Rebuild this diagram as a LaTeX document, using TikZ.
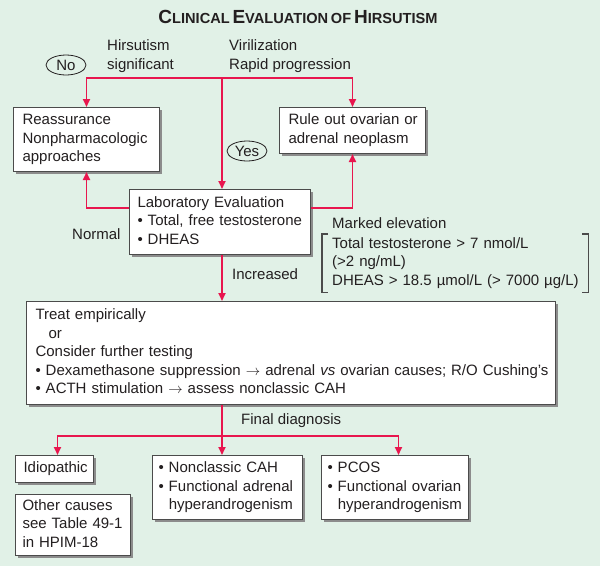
\documentclass[tikz,border=0pt]{standalone}
\usepackage{fontspec}
\setmainfont{Liberation Sans}
\usetikzlibrary{positioning,shapes.geometric,shadows,arrows.meta}

\definecolor{bggreen}{RGB}{225,241,231}
\definecolor{flowred}{RGB}{232,22,78}
\definecolor{boxgray}{RGB}{75,75,75}
\definecolor{inkgray}{RGB}{35,31,32}

% fake small caps for the heading
\newcommand\smcap[2]{{\fontsize{19}{19}\selectfont #1}{\fontsize{14.6}{14.6}\selectfont #2}}
\newcommand\bul{\textbullet\ }
\newcommand\hang{\phantom{\textbullet\ }}
% lines that never wrap
\newcommand\stack[1]{\begin{tabular}{@{}l@{}}#1\end{tabular}}

\begin{document}
\begin{tikzpicture}[
			x=1pt, y=-1pt,
			every node/.style={text=inkgray, font=\fontsize{15}{18.5}\selectfont},
			box/.style={draw=boxgray, line width=1pt, fill=white, anchor=north west, align=left,
				inner xsep=9pt, inner ysep=0pt,
				drop shadow={shadow xshift=2.2pt, shadow yshift=-2.2pt, fill=black!45, opacity=1}},
			oval/.style={draw=inkgray, ellipse, line width=0.8pt, inner sep=0pt,
				minimum width=40pt, minimum height=20pt},
			lbl/.style={anchor=west, align=left, inner sep=0pt},
			arr/.style={draw=flowred, line width=1.7pt, -{Triangle[length=8pt,width=7pt]}},
			wire/.style={draw=flowred, line width=1.7pt},
			brk/.style={draw=boxgray, line width=1.1pt},
			]

			\useasboundingbox (0,0) rectangle (600,566);
			\fill[bggreen] (0,0) rectangle (600,566);

			% --- Heading ---
			\node[anchor=base, inner sep=0pt, font=\bfseries] (title) at (298,23)
				{\smcap{C}{LINICAL} \smcap{E}{VALUATION} {\fontsize{14.6}{14.6}\selectfont OF} \smcap{H}{IRSUTISM}};

			% --- Boxes ---
			\node[box, text width=128pt, minimum height=64pt] (reass) at (13,107)
				{\stack{Reassurance\\Nonpharmacologic\\approaches}};
			\node[box, text width=128pt, minimum height=46pt] (rule) at (279,107)
				{\stack{Rule out ovarian or\\adrenal neoplasm}};
			\node[box, inner xsep=8pt, text width=165pt, minimum height=65pt] (lab) at (129,189)
				{\stack{Laboratory Evaluation\\\bul Total, free testosterone\\\bul DHEAS}};
			\node[box, text width=511pt, minimum height=103pt] (treat) at (26,301)
				{\stack{Treat empirically\\\hspace*{13pt}or\\Consider further testing\\
				\bul Dexamethasone suppression $\rightarrow$ adrenal \textit{vs} ovarian causes; R/O Cushing's\\
				\bul ACTH stimulation $\rightarrow$ assess nonclassic CAH}};

			\node[box, inner xsep=8pt, text width=62pt, minimum height=27pt] (idio) at (15,455) {\stack{Idiopathic}};
			\node[box, inner xsep=7pt, text width=101pt, minimum height=61pt] (other) at (15,494)
				{\stack{Other causes\\see Table 49-1\\in HPIM-18}};
			\node[box, inner xsep=6pt, text width=138pt, minimum height=64pt] (ncah) at (152,455)
				{\stack{\bul Nonclassic CAH\\\bul Functional adrenal\\\hang hyperandrogenism}};
			\node[box, inner xsep=6pt, text width=135pt, minimum height=64pt] (pcos) at (321,455)
				{\stack{\bul PCOS\\\bul Functional ovarian\\\hang hyperandrogenism}};

			% --- Decisions and labels ---
			\node[oval] (no) at (66,65) {No};
			\node[oval] (yes) at (247,151) {Yes};

			\node[lbl] (hirs) at (107,56) {Hirsutism\\significant};
			\node[lbl] (viril) at (229,56) {Virilization\\Rapid progression};
			\node[lbl] (normal) at (72,234) {Normal};
			\node[lbl] (incr) at (232,274) {Increased};
			\node[lbl] (marked) at (332,223) {Marked elevation};
			\node[lbl] (final) at (241,421) {Final diagnosis};

			% bracketed cut-off values
			\node[anchor=north west, align=left, inner xsep=10pt, inner ysep=0pt,
				text width=246pt, minimum height=58pt] (crit) at (322,234)
				{\stack{Total testosterone > 7 nmol/L\\(>2 ng/mL)\\DHEAS > 18.5 µmol/L (> 7000 µg/L)}};
			\draw[brk] ([xshift=6pt]crit.north west) -- (crit.north west) -- (crit.south west) -- ([xshift=6pt]crit.south west);
			\draw[brk] ([xshift=-6pt]crit.north east) -- (crit.north east) -- (crit.south east) -- ([xshift=-6pt]crit.south east);

			% --- Red connectors ---
			\coordinate (split) at (222,78);
			\coordinate (fork) at (222,436);

			\draw[arr] (split) -| (reass.north);
			\draw[arr] (split) -| (rule.north);
			\draw[arr] (split) -- (split |- lab.north);

			\draw[arr] ([yshift=-19pt]lab.north west) -| (reass.south);
			\draw[arr] ([yshift=-19pt]lab.north east) -| (rule.south);
			\draw[arr] (split |- lab.south) -- (split |- treat.north);

			\draw[wire] (split |- treat.south) -- (fork);
			\draw[arr] (fork) -| ([xshift=3pt]idio.north);
			\draw[arr] (fork) -- (fork |- ncah.north);
			\draw[arr] (fork) -| ([xshift=3.5pt]pcos.north);

		\end{tikzpicture}
\end{document}
